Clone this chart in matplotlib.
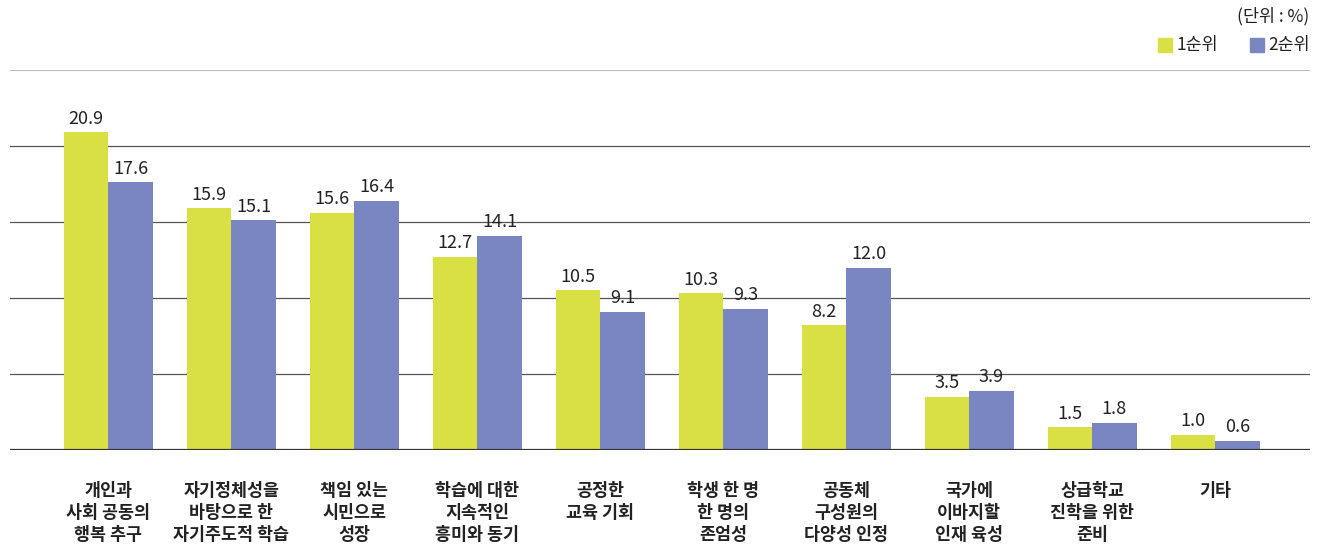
import numpy as np
import matplotlib.pyplot as plt
from matplotlib.patches import Rectangle

plt.rcParams['font.family'] = ['Noto Sans CJK KR', 'DejaVu Sans']

# 데이터
categories = ['개인과\n사회 공동의\n행복 추구', '자기정체성을\n바탕으로 한\n자기주도적 학습',
              '책임 있는\n시민으로\n성장', '학습에 대한\n지속적인\n흥미와 동기',
              '공정한\n교육 기회', '학생 한 명\n한 명의\n존엄성', '공동체\n구성원의\n다양성 인정',
              '국가에\n이바지할\n인재 육성', '상급학교\n진학을 위한\n준비', '기타']
rank1 = [20.9, 15.9, 15.6, 12.7, 10.5, 10.3, 8.2, 3.5, 1.5, 1.0]
rank2 = [17.6, 15.1, 16.4, 14.1, 9.1, 9.3, 12.0, 3.9, 1.8, 0.6]
series_names = ['1순위', '2순위']

cor1 = '#d9e044'
cor2 = '#7a86c2'

fig = plt.figure(figsize=(13.17, 5.52), dpi=100)
ax = fig.add_axes([10/1317, 102/552, 1300/1317, 380/552])

x = np.arange(len(categories))
w = 0.36
ax.bar(x - w/2, rank1, width=w, color=cor1, zorder=3)
ax.bar(x + w/2, rank2, width=w, color=cor2, zorder=3)

for xi, v in zip(x, rank1):
    ax.text(xi - w/2, v + 0.3, f'{v:.1f}', ha='center', va='bottom', fontsize=13, color='#222222')
for xi, v in zip(x, rank2):
    ax.text(xi + w/2, v + 0.3, f'{v:.1f}', ha='center', va='bottom', fontsize=13, color='#222222')

ax.set_xlim(-0.8, 9.77)
ax.set_ylim(0, 25)
for g in [5, 10, 15, 20]:
    ax.axhline(g, color='#555555', linewidth=0.9, zorder=1)
ax.axhline(25, color='#bbbbbb', linewidth=0.8, zorder=1)
ax.axhline(0, color='#333333', linewidth=1.6, zorder=4)

for s in ax.spines.values():
    s.set_visible(False)
ax.set_yticks([])
ax.set_xticks(x)
ax.set_xticklabels(categories, fontsize=12.5, fontweight='bold', color='#222222', linespacing=1.3)
ax.tick_params(axis='x', length=0, pad=23)

# 범례 및 단위
fig.text(1309/1317, 1 - 16/552, '(단위 : %)', ha='right', va='center', fontsize=12.5, color='#222222')
fig.patches.append(Rectangle((1158/1317, 1 - 52/552), 14/1317, 14/552, color=cor1, transform=fig.transFigure))
fig.text(1177/1317, 1 - 45/552, series_names[0], ha='left', va='center', fontsize=12.5, color='#222222')
fig.patches.append(Rectangle((1250/1317, 1 - 52/552), 14/1317, 14/552, color=cor2, transform=fig.transFigure))
fig.text(1268/1317, 1 - 45/552, series_names[1], ha='left', va='center', fontsize=12.5, color='#222222')

plt.savefig('out.png', dpi=100)
